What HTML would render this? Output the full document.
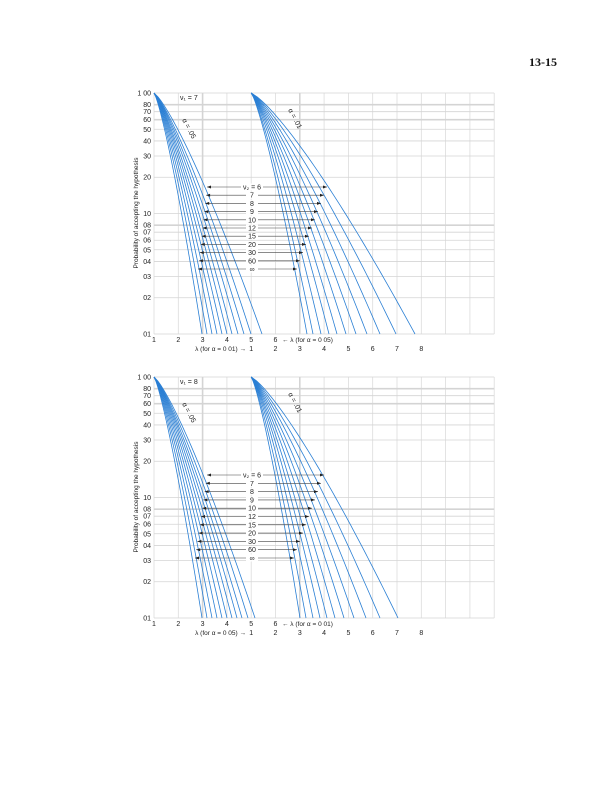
<!DOCTYPE html>
<html><head><meta charset="utf-8">
<style>
body{margin:0;background:#fff;}
svg{display:block}
text{font-family:"Liberation Sans",sans-serif;fill:#222}
</style></head>
<body>
<svg id="s" width="609" height="800" xmlns="http://www.w3.org/2000/svg">
<text x="557" y="66" text-anchor="end" style="font-family:'Liberation Serif',serif;font-weight:bold;font-size:12px;fill:#111">13-15</text>
</svg>
<script>
const S=document.getElementById('s');
const NS='http://www.w3.org/2000/svg';
function el(t,a,txt){const e=document.createElementNS(NS,t);for(const k in a)e.setAttribute(k,a[k]);if(txt!==undefined)e.textContent=txt;S.appendChild(e);return e;}
const X0=154,U=24.3;
function chart(cfg){
 const T=cfg.top,B=cfg.top+241;
 const Y=p=>T+(-Math.log10(p))/2*241;
 // grid
 for(let i=0;i<=14;i++){const x=X0+i*U;el('line',{x1:x,y1:T,x2:x,y2:B,stroke:(i==2||i==6)?'#d4d4d4':'#dcdcdc','stroke-width':(i==2||i==6)?1.6:0.8});}
 const ps=[1,.8,.7,.6,.5,.4,.3,.2,.1,.08,.07,.06,.05,.04,.03,.02,.01];
 const lb=['1 00','80','70','60','50','40','30','20','10','08','07','06','05','04','03','02','01'];
 ps.forEach((p,i)=>{const y=Y(p);el('line',{x1:X0,y1:y,x2:X0+14*U,y2:y,stroke:'#d4d4d4','stroke-width':(p==.8||p==.6||p==.08)?1.6:0.8});
  el('text',{x:151,y:y+2.5,'text-anchor':'end','font-size':7},lb[i]);});
 // curves
 const draw=(x0,ends)=>ends.forEach(xe=>{let d='';for(let k=0;k<=60;k++){const lp=-2*k/60;const u=Math.pow(-lp/2,1/1.25);const x=x0+(xe-x0)*u;d+=(k?'L':'M')+x.toFixed(2)+','+Y(Math.pow(10,lp)).toFixed(2);}
  el('path',{d:d,fill:'none',stroke:'#2a7fd4','stroke-width':0.8});});
 draw(X0,cfg.L);draw(X0+4*U,cfg.R);
 // arrows
 const lab=['ν₂ = 6','7','8','9','10','12','15','20','30','60','∞'];
 for(let i=0;i<11;i++){const y=cfg.ay0+i*cfg.ady;const xl=cfg.l0+(cfg.l1-cfg.l0)*i/10,xr=cfg.r0+(cfg.r1-cfg.r0)*i/10;
  el('line',{x1:xl,y1:y,x2:xr,y2:y,stroke:'#444','stroke-width':0.6});
  el('path',{d:`M${xl},${y}l4,-1.5v3z M${xr},${y}l-4,-1.5v3z`,fill:'#222'});
  const w=i==0?22:12;el('rect',{x:252-w/2,y:y-3.5,width:w,height:7,fill:'#fff'});
  el('text',{x:252,y:y+2.5,'text-anchor':'middle','font-size':7},lab[i]);}
 el('text',{x:180,y:T+7,'font-size':7},'ν₁ = '+cfg.n1);
 el('text',{x:0,y:0,'font-size':7,transform:`translate(182,${T+27}) rotate(62)`},'α = .05');
 el('text',{x:0,y:0,'font-size':7,transform:`translate(288,${T+17}) rotate(62)`},'α = .01');
 el('text',{x:0,y:0,'font-size':6.5,'text-anchor':'middle',transform:`translate(138,${T+120}) rotate(-90)`},'Probability of accepting the hypothesis');
 for(let i=1;i<=6;i++)el('text',{x:X0+(i-1)*U,y:B+8,'text-anchor':'middle','font-size':7},i);
 el('text',{x:282,y:B+8,'font-size':6.5},'← λ (for α = 0 0'+cfg.a1+')');
 el('text',{x:246,y:B+17,'text-anchor':'end','font-size':6.5},'λ (for α = 0 0'+cfg.a2+') →');
 for(let i=1;i<=8;i++)el('text',{x:X0+(i+3)*U,y:B+17,'text-anchor':'middle','font-size':7},i);
}
chart({top:93,n1:7,a1:'5',a2:'1',L:[202,207,212,217,222,227,232,238,244,251,262].reverse(),R:[307,313,321,329,337,346,356,367,380,396,415].reverse(),
 ay0:187,ady:8.2,l0:207,l1:198,r0:327,r1:297});
chart({top:377,n1:8,a1:'1',a2:'5',L:[202,207,212,217,222,227,232,237,242,248,255].reverse(),R:[300,306,313,320,327,335,344,354,366,380,398].reverse(),
 ay0:475,ady:8.3,l0:207,l1:195,r0:324,r1:294});
</script>
</body></html>
